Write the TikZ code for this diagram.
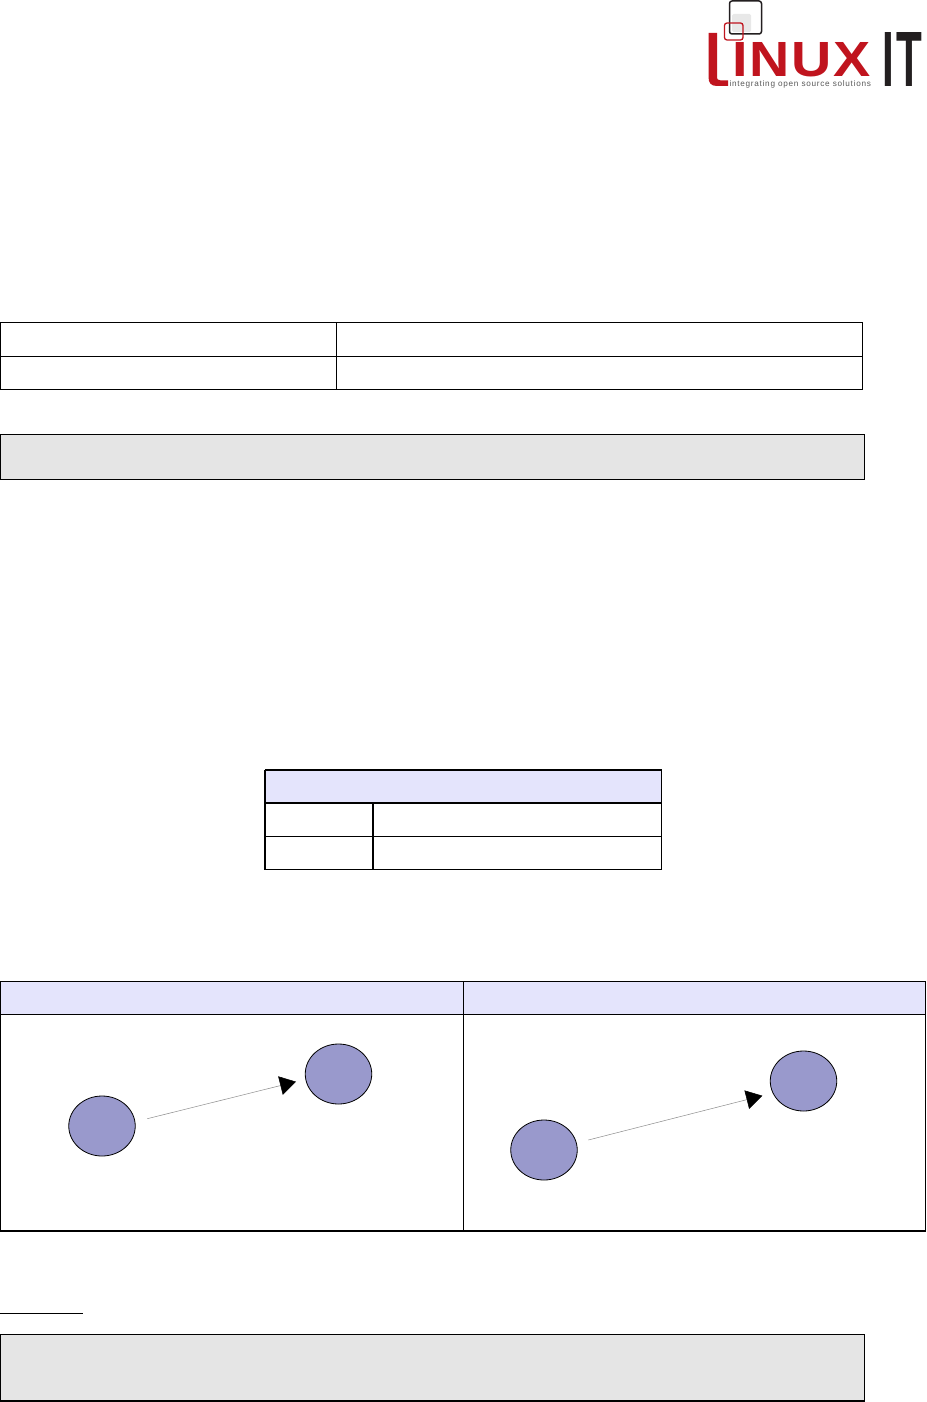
\documentclass[tikz,border=0pt]{standalone}
\usepackage{fontspec}
\setmainfont{Liberation Sans}
\usetikzlibrary{arrows.meta,shapes.geometric}
\definecolor{hdrblue}{HTML}{E4E4FC}
\definecolor{boxgray}{HTML}{E5E5E5}
\definecolor{bubble}{HTML}{9999CC}
\definecolor{logored}{HTML}{C0141E}
\definecolor{logoblack}{HTML}{231F20}
\tikzset{
  rule/.style={draw=black,line width=1.05pt},
  thickrule/.style={draw=black,line width=2pt},
  graybox/.style={draw=black,line width=1.05pt,fill=boxgray},
  headcell/.style={fill=hdrblue},
  bubblenode/.style={ellipse,draw=black,line width=0.8pt,fill=bubble,minimum width=66.5pt,minimum height=60pt,inner sep=0pt},
  link/.style={draw=black!45,line width=0.5pt,-{Triangle[length=16pt,width=19pt,color=black]}},
  logotext/.style={inner sep=0pt,outer sep=0pt,anchor=north west},
}
\begin{document}
\begin{tikzpicture}[x=1pt,y=-1pt]
\useasboundingbox[fill=white] (0,0) rectangle (926,1402);
% logo
\fill[gray!18,rounded corners=1.5pt] (732,14) rectangle (751,32);
\draw[logoblack,line width=1.5pt,rounded corners=2.5pt] (729.5,1) rectangle (761.5,34);
\draw[logored,line width=1.3pt,rounded corners=2.5pt] (724.5,23) rectangle (743,40);
\fill[logored] (708.5,33) -- (717,33) -- (717,76) .. controls (717,79.5) and (718,80.5) .. (721,80.5) -- (728,80.5) -- (728,86) -- (717,86) .. controls (711,86) and (708.5,83) .. (708.5,77) -- cycle;
\node[logotext,text=logored] (inux) at (732,42) {\resizebox{139pt}{34pt}{\addfontfeature{LetterSpace=3.5}\bfseries INUX}};
\node[logotext,text=logoblack] (it) at (882,32) {\resizebox{40pt}{54pt}{\bfseries I\kern0.06em T}};
\node[logotext,text=black!65] (tag) at (729.5,80.5) {\resizebox{141.5pt}{!}{\addfontfeature{LetterSpace=9}integrating open source solutions}};
% table 1
\draw[rule] (0.7,322.5) rectangle (862.3,389.3);
\draw[rule] (0.7,356.3) -- (862.3,356.3);
\draw[rule] (336.5,322.5) -- (336.5,389.3);
% gray box 1
\draw[graybox] (0.7,434.5) rectangle (864.5,479.5);
% table 2
\fill[headcell] (265,770) rectangle (661.5,803);
\draw[rule] (265,770) -- (661.5,770) -- (661.5,869.3) -- (265,869.3);
\draw[thickrule] (265,769.5) -- (265,869.8);
\draw[thickrule] (265,803) -- (661.5,803);
\draw[rule] (265,836.5) -- (661.5,836.5);
\draw[thickrule] (373,803) -- (373,869.3);
% table 3
\fill[headcell] (0.7,981.5) rectangle (925.3,1014.3);
\draw[rule] (0.7,1230.5) -- (0.7,981.5) -- (925.3,981.5) -- (925.3,1230.5);
\draw[rule] (0.7,1014.3) -- (925.3,1014.3);
\draw[rule] (463.5,981.5) -- (463.5,1230.5);
\draw[thickrule] (0,1230.7) -- (926,1230.7);
% left bubbles
\node[bubblenode] (a1) at (102,1126) {};
\node[bubblenode] (b1) at (338.5,1074) {};
\coordinate (a1out) at (147.3,1118.7);
\coordinate (b1in) at (296,1081.7);
\draw[link] (a1out) -- (b1in);
% right bubbles
\node[bubblenode] (a2) at (544,1150) {};
\node[bubblenode] (b2) at (803.5,1081) {};
\coordinate (a2out) at (588.3,1140);
\coordinate (b2in) at (762.3,1095.7);
\draw[link] (a2out) -- (b2in);
% underline
\draw[rule] (0,1313.5) -- (83,1313.5);
% gray box 2
\draw[graybox] (0.7,1334.5) rectangle (864.5,1401);
\end{tikzpicture}
\end{document}
